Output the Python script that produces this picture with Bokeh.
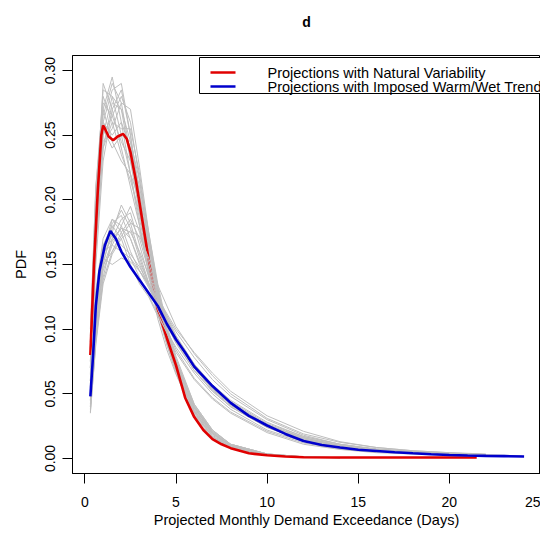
import numpy as np
from bokeh.plotting import figure
from bokeh.models import (Range1d, FixedTicker, PrintfTickFormatter, Label, BoxAnnotation, Arrow,
                          LinearAxis)
from bokeh.embed import file_html
from bokeh.resources import INLINE

nan = float("nan")

# ---------------- data ----------------
# ensemble members, natural variability (gray)
x_natural = [0.3, 0.6, 1.0, 1.5, 2.0, 2.5, 3.0, 3.5, 4.0, 4.5, 5.0, 6.0, 7.0, 8.0, 10.0, 12.0, 14.0]
natural_members = [
    [0.070, 0.190, 0.290, 0.270, 0.240, 0.210, 0.180, 0.145, 0.112, 0.088, 0.068, 0.036, 0.018, 0.009, 0.003, 0.001, 0.0005],
    [0.090, 0.200, 0.270, 0.295, 0.260, 0.220, 0.180, 0.142, 0.108, 0.084, 0.065, 0.034, 0.017, 0.009, 0.003, 0.001, nan],
    [0.060, 0.150, 0.230, 0.270, 0.285, 0.250, 0.205, 0.160, 0.122, 0.094, 0.072, 0.038, 0.019, 0.010, 0.003, 0.001, nan],
    [0.080, 0.180, 0.260, 0.250, 0.260, 0.240, 0.210, 0.170, 0.132, 0.100, 0.076, 0.040, 0.020, 0.010, 0.003, 0.0012, 0.0006],
    [0.100, 0.210, 0.280, 0.260, 0.235, 0.215, 0.190, 0.155, 0.120, 0.092, 0.070, 0.036, 0.017, 0.008, 0.0025, 0.001, nan],
    [0.070, 0.170, 0.250, 0.280, 0.270, 0.230, 0.190, 0.150, 0.117, 0.090, 0.069, 0.037, 0.019, 0.010, 0.003, 0.001, 0.0005],
    [0.085, 0.190, 0.255, 0.240, 0.250, 0.245, 0.215, 0.175, 0.135, 0.103, 0.079, 0.042, 0.022, 0.011, 0.0035, 0.0013, nan],
    [0.060, 0.160, 0.240, 0.275, 0.270, 0.245, 0.200, 0.160, 0.125, 0.096, 0.073, 0.039, 0.020, 0.010, 0.003, 0.001, nan],
    [0.075, 0.200, 0.285, 0.280, 0.250, 0.220, 0.185, 0.150, 0.116, 0.088, 0.066, 0.033, 0.016, 0.008, 0.0025, 0.001, nan],
    [0.090, 0.185, 0.250, 0.265, 0.280, 0.260, 0.215, 0.165, 0.126, 0.096, 0.073, 0.039, 0.020, 0.010, 0.003, 0.0012, 0.0006],
    [0.065, 0.170, 0.265, 0.290, 0.275, 0.235, 0.195, 0.155, 0.120, 0.092, 0.070, 0.037, 0.019, 0.009, 0.003, 0.001, nan],
    [0.080, 0.180, 0.245, 0.255, 0.275, 0.270, 0.225, 0.175, 0.132, 0.099, 0.075, 0.041, 0.021, 0.011, 0.0035, 0.0013, nan],
    [0.095, 0.210, 0.270, 0.245, 0.230, 0.220, 0.200, 0.165, 0.130, 0.100, 0.077, 0.042, 0.022, 0.011, 0.0035, 0.0013, 0.0006],
    [0.070, 0.175, 0.260, 0.285, 0.290, 0.250, 0.200, 0.155, 0.118, 0.090, 0.068, 0.035, 0.017, 0.008, 0.0025, 0.001, nan],
    [0.085, 0.195, 0.275, 0.265, 0.245, 0.230, 0.205, 0.168, 0.128, 0.097, 0.074, 0.040, 0.020, 0.010, 0.003, 0.0012, nan],
    [0.075, 0.165, 0.240, 0.260, 0.255, 0.255, 0.220, 0.172, 0.130, 0.098, 0.075, 0.040, 0.021, 0.011, 0.0035, 0.0013, 0.0006],
]

# ensemble members, imposed warm/wet trend (gray)
x_warm = [0.3, 0.6, 1.0, 1.5, 2.0, 2.5, 3.0, 3.5, 4.0, 5.0, 6.0, 7.0, 8.0, 10.0, 12.0, 14.0, 16.0, 18.0, 20.0, 22.0, 24.0]
warm_members = [
    [0.040, 0.100, 0.150, 0.178, 0.192, 0.178, 0.155, 0.135, 0.118, 0.090, 0.068, 0.052, 0.040, 0.024, 0.014, 0.009, 0.006, 0.004, 0.003, 0.002, nan],
    [0.055, 0.125, 0.165, 0.180, 0.170, 0.150, 0.135, 0.125, 0.110, 0.086, 0.066, 0.050, 0.038, 0.022, 0.013, 0.008, 0.0055, 0.004, nan, nan, nan],
    [0.035, 0.090, 0.140, 0.170, 0.185, 0.190, 0.165, 0.140, 0.120, 0.092, 0.070, 0.053, 0.041, 0.025, 0.015, 0.009, 0.006, 0.004, 0.003, 0.002, 0.0015],
    [0.050, 0.115, 0.160, 0.165, 0.160, 0.155, 0.145, 0.134, 0.123, 0.098, 0.078, 0.061, 0.048, 0.030, 0.018, 0.011, 0.0075, 0.0055, 0.004, nan, nan],
    [0.045, 0.110, 0.150, 0.160, 0.175, 0.185, 0.170, 0.145, 0.122, 0.093, 0.072, 0.055, 0.042, 0.025, 0.015, 0.009, 0.006, 0.004, nan, nan, nan],
    [0.060, 0.130, 0.170, 0.185, 0.175, 0.155, 0.140, 0.126, 0.112, 0.082, 0.061, 0.046, 0.035, 0.020, 0.011, 0.007, 0.0045, 0.0035, 0.0025, 0.002, nan],
    [0.040, 0.095, 0.145, 0.165, 0.180, 0.195, 0.175, 0.148, 0.124, 0.093, 0.070, 0.054, 0.042, 0.026, 0.016, 0.010, 0.007, 0.005, 0.003, nan, nan],
    [0.050, 0.120, 0.155, 0.150, 0.155, 0.152, 0.145, 0.135, 0.124, 0.100, 0.082, 0.066, 0.052, 0.033, 0.021, 0.013, 0.0085, 0.006, 0.0045, 0.0035, nan],
    [0.045, 0.105, 0.155, 0.182, 0.188, 0.170, 0.150, 0.133, 0.117, 0.089, 0.068, 0.052, 0.040, 0.024, 0.014, 0.009, 0.006, 0.004, nan, nan, nan],
    [0.055, 0.120, 0.158, 0.170, 0.178, 0.170, 0.152, 0.136, 0.120, 0.092, 0.071, 0.055, 0.043, 0.026, 0.016, 0.010, 0.007, 0.005, 0.004, 0.003, nan],
    [0.038, 0.092, 0.138, 0.160, 0.172, 0.182, 0.178, 0.152, 0.126, 0.095, 0.073, 0.056, 0.043, 0.026, 0.016, 0.010, 0.007, 0.005, nan, nan, nan],
    [0.058, 0.128, 0.165, 0.172, 0.165, 0.158, 0.148, 0.135, 0.121, 0.093, 0.072, 0.056, 0.044, 0.027, 0.017, 0.011, 0.007, 0.005, 0.004, nan, nan],
    [0.048, 0.112, 0.152, 0.175, 0.196, 0.182, 0.158, 0.136, 0.115, 0.084, 0.062, 0.047, 0.036, 0.021, 0.012, 0.0075, 0.005, nan, nan, nan, nan],
    [0.042, 0.100, 0.148, 0.168, 0.178, 0.175, 0.160, 0.142, 0.123, 0.094, 0.073, 0.057, 0.045, 0.028, 0.017, 0.011, 0.007, 0.005, 0.004, 0.003, nan],
    [0.052, 0.118, 0.160, 0.185, 0.180, 0.160, 0.145, 0.132, 0.119, 0.091, 0.070, 0.054, 0.042, 0.025, 0.015, 0.0095, 0.0065, 0.0045, 0.003, nan, nan],
    [0.036, 0.088, 0.135, 0.158, 0.170, 0.176, 0.172, 0.155, 0.134, 0.102, 0.081, 0.064, 0.050, 0.031, 0.019, 0.0125, 0.0085, 0.006, 0.0045, 0.003, 0.002],
]

# ensemble means
red_x = [0.3, 0.5, 0.7, 0.9, 1.0, 1.1, 1.3, 1.55, 1.8, 2.1, 2.3, 2.5, 2.8, 3.2, 3.6, 4.0, 4.5, 5.0, 5.5, 6.0,
         6.5, 7.0, 7.5, 8.0, 9.0, 10.0, 11.0, 12.0, 14.0, 17.0, 21.5]
red_y = [0.080, 0.150, 0.205, 0.250, 0.2575, 0.255, 0.249, 0.246, 0.249, 0.251, 0.247, 0.237, 0.215, 0.180, 0.145,
         0.115, 0.093, 0.072, 0.047, 0.032, 0.022, 0.015, 0.011, 0.008, 0.004, 0.0025, 0.0015, 0.0010, 0.0008,
         0.0008, 0.0008]
blue_x = [0.3, 0.45, 0.6, 0.8, 1.1, 1.4, 1.7, 2.0, 2.5, 2.9, 3.5, 4.0, 4.5, 5.0, 5.5, 6.0, 7.0, 8.0, 9.0, 10.0,
          11.0, 12.0, 13.0, 14.0, 15.0, 16.0, 17.0, 18.0, 19.0, 20.0, 21.0, 22.0, 23.0, 24.1]
blue_y = [0.048, 0.080, 0.118, 0.145, 0.165, 0.176, 0.170, 0.160, 0.148, 0.140, 0.128, 0.118, 0.104, 0.092, 0.082,
          0.071, 0.056, 0.043, 0.033, 0.0255, 0.019, 0.0135, 0.0105, 0.0085, 0.0068, 0.0058, 0.0048, 0.004,
          0.0033, 0.0027, 0.0023, 0.002, 0.0018, 0.0015]

x_ticks = [0, 5, 10, 15, 20, 25]
y_ticks = [0.00, 0.05, 0.10, 0.15, 0.20, 0.25, 0.30]
title_text = "d"
legend_labels = ["Projections with Natural Variability", "Projections with Imposed Warm/Wet Trend"]

# ---------------- figure ----------------
FONT = "Liberation Sans"
GRAY = "#BEBEBE"
RED = "#E00000"
BLUE = "#0000CC"

p = figure(width=540, height=532, output_backend="svg", toolbar_location=None,
           x_range=Range1d(-0.68, 25.0), y_range=Range1d(-0.0116, 0.3116),
           min_border_left=72, min_border_right=0, min_border_top=55, min_border_bottom=59)

p.xgrid.visible = False
p.ygrid.visible = False
p.outline_line_color = "black"
p.outline_line_width = 1
p.outline_line_alpha = 1
p.background_fill_color = "white"
p.border_fill_color = "white"

for ax in (p.xaxis[0], p.yaxis[0]):
    ax.axis_line_color = "black"
    ax.major_tick_line_color = "black"
    ax.major_tick_in = 0
    ax.major_tick_out = 10
    ax.minor_tick_line_color = None
    ax.major_label_text_font = FONT
    ax.major_label_text_font_size = "14px"
    ax.major_label_text_color = "black"
    ax.axis_label_text_font = FONT
    ax.axis_label_text_font_size = "14.5px"
    ax.axis_label_text_font_style = "normal"
    ax.axis_label_text_color = "black"

p.xaxis.ticker = FixedTicker(ticks=x_ticks)
p.xaxis.formatter = PrintfTickFormatter(format="%d")
p.xaxis.major_label_standoff = 13
p.xaxis.axis_label = "Projected Monthly Demand Exceedance (Days)"
p.xaxis.axis_label_standoff = 2

p.yaxis.ticker = FixedTicker(ticks=y_ticks)
p.yaxis.formatter = PrintfTickFormatter(format="%.2f")
p.yaxis.major_label_orientation = "vertical"
p.yaxis.major_label_standoff = 7
p.yaxis.axis_label = "PDF"
p.yaxis.axis_label_standoff = 14

# title, carried by a bare axis above the frame
title_axis = LinearAxis(ticker=FixedTicker(ticks=[]), axis_label=title_text,
                        axis_line_color=None, major_tick_line_color=None, minor_tick_line_color=None,
                        major_tick_out=0, major_tick_in=0, minor_tick_out=0, major_label_standoff=0,
                        axis_label_standoff=26, axis_label_text_font=FONT, axis_label_text_font_style="bold",
                        axis_label_text_font_size="14px", axis_label_text_color="black")
p.add_layout(title_axis, "above")


def draw_member(xs, ys):
    pts = [(a, b) for a, b in zip(xs, ys) if not np.isnan(b)]
    p.line([a for a, _ in pts], [b for _, b in pts], line_color=GRAY, line_width=1)


for m in natural_members:
    draw_member(x_natural, m)
p.line(red_x, red_y, line_color=RED, line_width=2.6)
for m in warm_members:
    draw_member(x_warm, m)
p.line(blue_x, blue_y, line_color=BLUE, line_width=2.6)

# ---------------- legend (screen units, relative to the frame) ----------------
box = BoxAnnotation(left=127, right=500, top=416, bottom=380,
                    left_units="screen", right_units="screen", top_units="screen", bottom_units="screen",
                    fill_color="white", fill_alpha=1, line_color="black", line_alpha=1, line_width=1)
p.add_layout(box)
row_y = [401, 387]
for col, ry, lab in zip([RED, BLUE], row_y, legend_labels):
    p.add_layout(Arrow(end=None, x_start=138, y_start=ry, x_end=163, y_end=ry,
                       start_units="screen", end_units="screen", line_color=col, line_width=2.6))
    p.add_layout(Label(x=195, y=ry, x_units="screen", y_units="screen", text=lab,
                       text_font=FONT, text_font_size="14.5px", text_baseline="middle", text_color="black"))

open("out.html", "w").write(file_html(p, INLINE))
